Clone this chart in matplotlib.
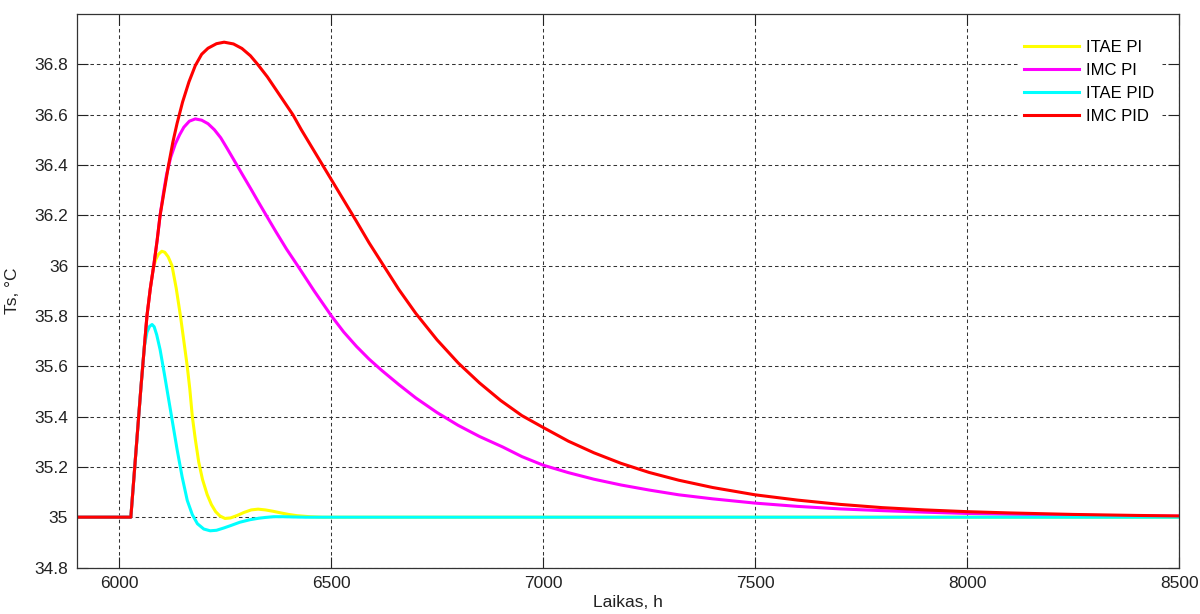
import matplotlib
matplotlib.use("Agg")
import matplotlib.pyplot as plt

plt.rcParams['font.family'] = ['Liberation Sans', 'DejaVu Sans']

# ITAE PI
t_itae_pi = [5900, 6028, 6040, 6052, 6066, 6074, 6081, 6087, 6093, 6101, 6108, 6116,
             6125, 6135, 6145, 6153, 6161, 6167, 6173, 6180, 6188, 6197, 6208, 6218,
             6228, 6238, 6250, 6263, 6279, 6295, 6312, 6328, 6345, 6362, 6382, 6400,
             6420, 6450, 6480, 8500]
y_itae_pi = [35.0, 35.0, 35.26, 35.52, 35.8, 35.91, 35.99, 36.025, 36.045, 36.057, 36.053, 36.035,
             36.0, 35.91, 35.8, 35.7, 35.6, 35.51, 35.4, 35.31, 35.22, 35.15, 35.09, 35.05,
             35.022, 35.005, 34.995, 34.997, 35.007, 35.019, 35.029, 35.032, 35.029, 35.024, 35.017, 35.011,
             35.006, 35.002, 35.0, 35.0]

# IMC PI
t_imc_pi = [5900, 6028, 6040, 6052, 6066, 6074, 6082, 6090, 6097, 6105, 6112, 6122,
            6133, 6143, 6153, 6166, 6180, 6195, 6210, 6225, 6240, 6255, 6271, 6290,
            6311, 6327, 6350, 6370, 6395, 6422, 6460, 6501, 6530, 6560, 6590, 6620,
            6660, 6700, 6750, 6800, 6850, 6905, 6950, 7000, 7060, 7120, 7184, 7250,
            7320, 7400, 7500, 7600, 7700, 7800, 7900, 8000, 8100, 8250, 8400, 8500]
y_imc_pi = [35.0, 35.0, 35.26, 35.52, 35.8, 35.91, 36.0, 36.1, 36.2, 36.29, 36.36, 36.43,
            36.484, 36.52, 36.55, 36.574, 36.583, 36.578, 36.564, 36.54, 36.508, 36.466, 36.42, 36.365,
            36.305, 36.258, 36.192, 36.135, 36.066, 35.998, 35.9, 35.8, 35.736, 35.679, 35.628, 35.583,
            35.527, 35.474, 35.416, 35.365, 35.321, 35.279, 35.241, 35.207, 35.177, 35.151, 35.128, 35.108,
            35.089, 35.073, 35.056, 35.043, 35.033, 35.026, 35.02, 35.015, 35.012, 35.008, 35.005, 35.004]

# ITAE PID
t_itae_pid = [5900, 6028, 6040, 6052, 6060, 6066, 6072, 6078, 6083, 6089, 6097, 6107,
              6117, 6127, 6137, 6149, 6161, 6173, 6185, 6200, 6215, 6230, 6247, 6264,
              6285, 6309, 6330, 6345, 6365, 6387, 6410, 6440, 8500]
y_itae_pid = [35.0, 35.0, 35.26, 35.52, 35.68, 35.735, 35.758, 35.766, 35.757, 35.725, 35.666, 35.57,
              35.47, 35.37, 35.27, 35.16, 35.067, 35.01, 34.974, 34.953, 34.946, 34.948, 34.957, 34.967,
              34.98, 34.99, 34.996, 34.999, 35.002, 35.002, 35.001, 35.0, 35.0]

# IMC PID
t_imc_pid = [5900, 6028, 6040, 6052, 6066, 6074, 6082, 6090, 6097, 6107, 6117, 6127,
             6137, 6150, 6165, 6180, 6195, 6210, 6230, 6248, 6270, 6290, 6310, 6327,
             6350, 6370, 6390, 6410, 6430, 6460, 6500, 6530, 6560, 6590, 6624, 6660,
             6700, 6750, 6800, 6850, 6900, 6950, 7000, 7060, 7120, 7184, 7250, 7320,
             7400, 7500, 7600, 7700, 7800, 7900, 8000, 8100, 8250, 8400, 8500]
y_imc_pid = [35.0, 35.0, 35.26, 35.52, 35.8, 35.91, 36.0, 36.1, 36.2, 36.3, 36.4, 36.49,
             36.565, 36.65, 36.73, 36.795, 36.84, 36.864, 36.882, 36.888, 36.881, 36.863, 36.834, 36.8,
             36.75, 36.7, 36.65, 36.6, 36.54, 36.456, 36.344, 36.26, 36.176, 36.09, 36.0, 35.905,
             35.81, 35.705, 35.613, 35.534, 35.464, 35.404, 35.357, 35.302, 35.256, 35.214, 35.178, 35.147,
             35.118, 35.089, 35.068, 35.051, 35.038, 35.029, 35.022, 35.017, 35.011, 35.007, 35.005]

series = [
    ("ITAE PI", t_itae_pi, y_itae_pi, "#ffff00"),
    ("IMC PI", t_imc_pi, y_imc_pi, "#ff00ff"),
    ("ITAE PID", t_itae_pid, y_itae_pid, "#00ffff"),
    ("IMC PID", t_imc_pid, y_imc_pid, "#ff0000"),
]

xticks = [6000, 6500, 7000, 7500, 8000, 8500]
yticks = [34.8, 35.0, 35.2, 35.4, 35.6, 35.8, 36.0, 36.2, 36.4, 36.6, 36.8]

fig = plt.figure(figsize=(12, 6.14), dpi=100)
ax = fig.add_axes([0.0638, 0.0757, 0.9188, 0.9015])

for name, t, y, c in series:
    ax.plot(t, y, color=c, lw=2.2, label=name, solid_joinstyle='round')

ax.set_xlim(5900, 8500)
ax.set_ylim(34.8, 37.0)
ax.set_xticks(xticks)
ax.set_yticks(yticks)
ax.set_yticklabels(['%g' % v for v in yticks])
ax.grid(True, color='#333333', lw=0.75, linestyle=(0, (3.4, 2.8)))
ax.set_axisbelow(True)
ax.tick_params(direction='in', length=8, width=0.8, top=True, right=True,
               labelsize=12.5, colors='#222222', pad=6)
for s in ax.spines.values():
    s.set_color('#333333')
    s.set_linewidth(0.9)

ax.set_xlabel('Laikas, h', fontsize=12.5, color='#222222', labelpad=3)
ax.set_ylabel('Ts, °C', fontsize=12.5, color='#222222', labelpad=10)

leg = ax.legend(loc='upper right', bbox_to_anchor=(0.991, 0.981), fontsize=12,
                handlelength=3.3, handletextpad=0.4, labelspacing=0.48,
                frameon=True, fancybox=False, borderpad=0.4)
leg.get_frame().set_edgecolor('none')
leg.get_frame().set_facecolor('white')
leg.get_frame().set_alpha(1.0)

fig.savefig('out.png', dpi=100)
